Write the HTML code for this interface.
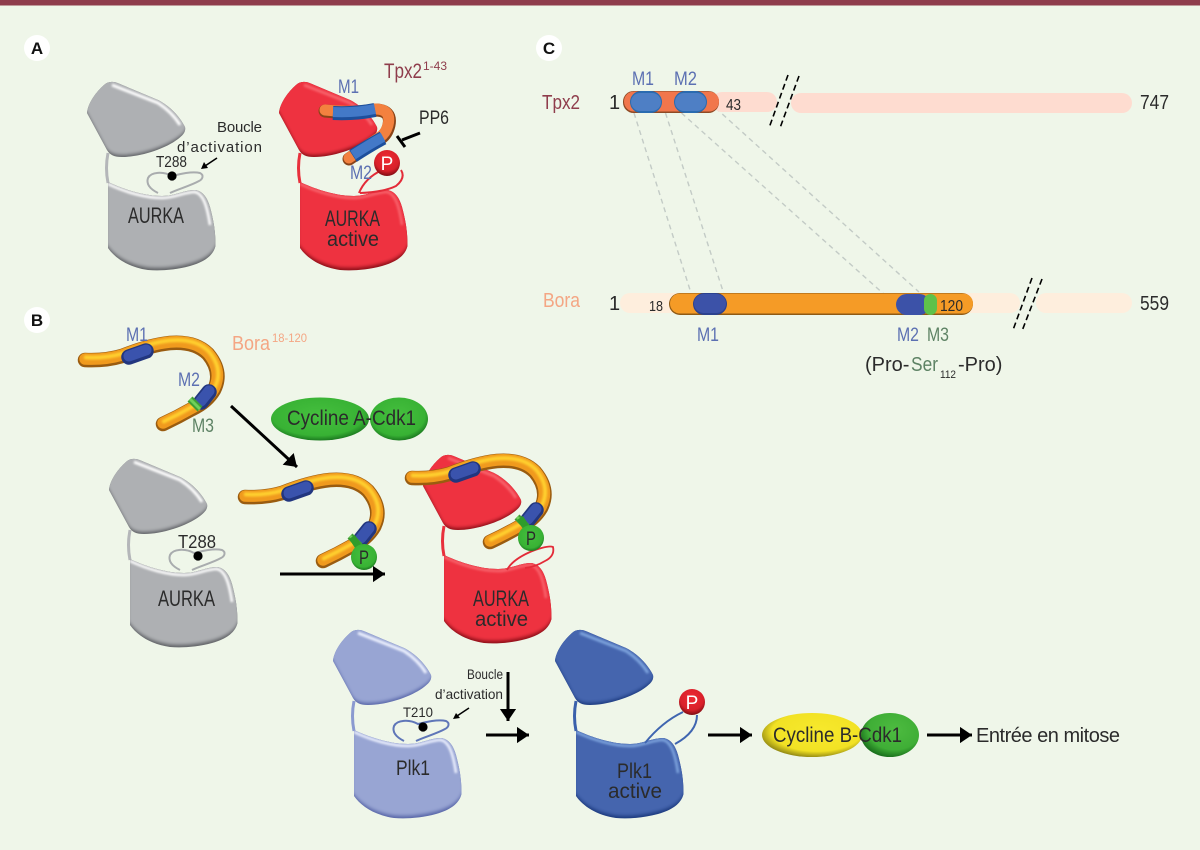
<!DOCTYPE html>
<html><head><meta charset="utf-8"><style>
html,body{margin:0;padding:0;background:#eff6e9}
svg{display:block}
text{font-family:"Liberation Sans",sans-serif;fill:#2b2b2b}
.b{fill:#5c70b2}.g{fill:#5d8264}
</style></head><body>
<svg width="1200" height="850" viewBox="0 0 1200 850" xmlns="http://www.w3.org/2000/svg">
<defs>
<filter id="bl" x="-20%" y="-20%" width="140%" height="140%"><feGaussianBlur stdDeviation="1.9"/></filter>
<filter id="bs" x="-30%" y="-30%" width="160%" height="160%"><feGaussianBlur stdDeviation="1"/></filter>
<path id="lobeP" d="M87 113 C88 103 96 92 104 85 C108 81 114 81 120 84 L158 100 C170 106 180 117 185 127 C186 132 183 135 178 139 C165 149 140 157 122 157 C114 157 110 155 107 150 Z"/>
<path id="lowP" d="M108 182 C125 190 145 196 162 196 C175 196 184 190 195 190 C204 191 208 200 210 207 C214 222 215.5 232 215.5 246 C213 256 204 262 190 266 C175 270 160 271 148 270 C128 267 115 258 108 248 Z"/>
<clipPath id="cL"><use href="#lobeP"/></clipPath>
<clipPath id="cW"><use href="#lowP"/></clipPath>
<g id="kin">
 <path d="M108 153 Q105 168 108 183" fill="none" style="stroke:var(--s)" stroke-width="3"/>
 <use href="#lobeP" style="fill:var(--d)"/>
 <g clip-path="url(#cL)">
  <use href="#lobeP" transform="translate(0,-4)" filter="url(#bl)" stroke-width="4" style="fill:var(--b);stroke:var(--b)"/>
  <path d="M112 85 L158 103 Q172 112 180 125" fill="none" style="stroke:var(--h)" stroke-width="3" filter="url(#bs)"/>
 </g>
 <use href="#lowP" style="fill:var(--d)"/>
 <g clip-path="url(#cW)">
  <use href="#lowP" transform="translate(0,-4.5)" filter="url(#bl)" stroke-width="4" style="fill:var(--b);stroke:var(--b)"/>
  <path d="M108 184 C125 192 145 198 162 198 C175 198 184 192 195 192 C203 194 207 205 210 225" fill="none" style="stroke:var(--h)" stroke-width="2.6" filter="url(#bs)"/>
 </g>
</g>
<path id="loop" d="M158 193 C150 189 146 184 148 178 C151 172 163 171 172 176 C180 174 192 171 200 173 C204 175 203 179 199 181 C190 186 178 189 170 193" fill="none" stroke-width="2"/>
<path id="boraP" d="M85 360 Q105 361 122 356 Q150 345 170 343 Q195 341 208 354 Q223 372 214 390 Q207 402 192 409 Q178 417 163 424"/>
<g id="bora" fill="none" stroke-linecap="round">
 <use href="#boraP" stroke="#9a5c10" stroke-width="14.5"/>
 <use href="#boraP" stroke="#f09a1e" stroke-width="11.5" transform="translate(0,-1)"/>
 <use href="#boraP" stroke="#ffd02f" stroke-width="4" transform="translate(0.8,-2.6)" filter="url(#bs)"/>
 <path d="M129 357 L146 351" stroke="#22367f" stroke-width="15.5"/>
 <path d="M129 356 L146 350" stroke="#3a53ad" stroke-width="11"/>
 <path d="M201 402 L209 392" stroke="#22367f" stroke-width="15.5"/>
 <path d="M201 401 L209 391" stroke="#3a53ad" stroke-width="11"/>
 <path d="M190 399 L200 409" stroke="#3f9e34" stroke-width="7" stroke-linecap="butt"/>
 <path d="M190 399 L200 409" stroke="#6fd05a" stroke-width="3" stroke-linecap="butt"/>
</g>
<radialGradient id="gp" cx="48%" cy="42%" r="58%"><stop offset="0" stop-color="#45bf3e"/><stop offset=".8" stop-color="#38b234"/><stop offset="1" stop-color="#1c7a20"/></radialGradient>
<radialGradient id="rp" cx="50%" cy="35%" r="65%"><stop offset="0" stop-color="#ee2a33"/><stop offset=".7" stop-color="#d8202a"/><stop offset="1" stop-color="#7e0c12"/></radialGradient>
<radialGradient id="ye" cx="55%" cy="42%" r="60%"><stop offset="0" stop-color="#f7e92d"/><stop offset=".75" stop-color="#f2e224"/><stop offset="1" stop-color="#8d8413"/></radialGradient>
<radialGradient id="gg" cx="58%" cy="38%" r="65%"><stop offset="0" stop-color="#4dbb40"/><stop offset=".7" stop-color="#3fae36"/><stop offset="1" stop-color="#176a1a"/></radialGradient>
<marker id="ah" markerWidth="6" markerHeight="6" refX="4" refY="2.7" orient="auto" markerUnits="strokeWidth"><path d="M0 0L4 2.7L0 5.4Z" fill="#000"/></marker>
</defs>

<rect width="1200" height="850" fill="#eff6e9"/>
<rect width="1200" height="5.5" fill="#8f3d4c"/>

<!-- panel letters -->
<circle cx="37" cy="48" r="13" fill="#fff"/><text x="37" y="54" text-anchor="middle" font-size="17" font-weight="bold" style="fill:#111">A</text>
<circle cx="37" cy="320" r="13" fill="#fff"/><text x="37" y="326" text-anchor="middle" font-size="17" font-weight="bold" style="fill:#111">B</text>
<circle cx="549" cy="48" r="13" fill="#fff"/><text x="549" y="54" text-anchor="middle" font-size="17" font-weight="bold" style="fill:#111">C</text>

<!-- A : grey -->
<use href="#kin" style="--b:#aeb0b3;--d:#606266;--h:#fff;--s:#b4b6b9"/>
<use href="#loop" stroke="#a9acae"/>
<circle cx="172" cy="176" r="4.6" fill="#000"/>
<text x="128" y="223" font-size="22" textLength="56" lengthAdjust="spacingAndGlyphs">AURKA</text>
<text x="217" y="132" font-size="15" textLength="45" lengthAdjust="spacing">Boucle</text>
<text x="177" y="152" font-size="15" textLength="85" lengthAdjust="spacing">d’activation</text>
<text x="156" y="167" font-size="16" textLength="31" lengthAdjust="spacingAndGlyphs">T288</text>
<path d="M217 158L205 166" stroke="#000" stroke-width="1.6"/><path d="M201 169L204 162L208 168Z" fill="#000"/>

<!-- A : red -->
<g transform="translate(192,0)"><use href="#kin" style="--b:#ee3240;--d:#8c0f18;--h:#f8636c;--s:#e8303c"/></g>
<path d="M359 193 Q365 178 382 170 M401 170 Q406 178 396 186 Q384 192 360 193" fill="none" stroke="#e32b38" stroke-width="2"/>
<g fill="none" stroke-linecap="round">
 <path d="M325 111 Q350 114 375 110 Q392 110 389 125 Q387 134 381 138 Q365 148 349 159" stroke="#8a4418" stroke-width="13"/>
 <path d="M325 110 Q350 113 375 109 Q392 109 388 125 Q386 133 380 137 Q365 147 349 158" stroke="#f3813f" stroke-width="11"/>
 <path d="M333 113 Q355 114 375 110" stroke="#1d4f9c" stroke-width="14" stroke-linecap="butt"/>
 <path d="M333 112 Q355 113 375 109" stroke="#4379c8" stroke-width="10" stroke-linecap="butt"/>
 <path d="M383 138 Q370 145 353 156" stroke="#1d4f9c" stroke-width="14" stroke-linecap="butt"/>
 <path d="M383 137 Q370 144 353 155" stroke="#4379c8" stroke-width="10" stroke-linecap="butt"/>
</g>
<circle cx="387" cy="163" r="13" fill="url(#rp)"/><text x="387" y="170" text-anchor="middle" font-size="19" style="fill:#fff">P</text>
<text x="325" y="226" font-size="22" textLength="55" lengthAdjust="spacingAndGlyphs">AURKA</text>
<text x="327" y="246" font-size="21" textLength="52" lengthAdjust="spacingAndGlyphs">active</text>
<text x="384" y="78" font-size="21" textLength="38" lengthAdjust="spacingAndGlyphs" style="fill:#8f3d4c">Tpx2</text>
<text x="423" y="70" font-size="12" textLength="24" lengthAdjust="spacingAndGlyphs" style="fill:#8f3d4c">1-43</text>
<text class="b" x="338" y="93" font-size="19" textLength="21" lengthAdjust="spacingAndGlyphs">M1</text>
<text class="b" x="350" y="179" font-size="19" textLength="22" lengthAdjust="spacingAndGlyphs">M2</text>
<text x="419" y="124" font-size="19" textLength="30" lengthAdjust="spacingAndGlyphs">PP6</text>
<path d="M420 133L402 140" stroke="#000" stroke-width="3"/><path d="M397 136L405 147" stroke="#000" stroke-width="3"/>

<!-- B : Bora free -->
<use href="#bora"/>
<text x="232" y="350" font-size="20" textLength="38" lengthAdjust="spacingAndGlyphs" style="fill:#f4a684">Bora</text>
<text x="272" y="342" font-size="12" textLength="35" lengthAdjust="spacingAndGlyphs" style="fill:#f4a684">18-120</text>
<text class="b" x="126" y="341" font-size="19" textLength="22" lengthAdjust="spacingAndGlyphs">M1</text>
<text class="b" x="178" y="386" font-size="19" textLength="22" lengthAdjust="spacingAndGlyphs">M2</text>
<text class="g" x="192" y="432" font-size="19" textLength="22" lengthAdjust="spacingAndGlyphs">M3</text>

<ellipse cx="320" cy="419" rx="49" ry="21.5" fill="url(#gp)"/>
<ellipse cx="399" cy="419" rx="29" ry="21.5" fill="url(#gp)"/>
<text x="287" y="425" font-size="21" textLength="129" lengthAdjust="spacingAndGlyphs">Cycline A-Cdk1</text>

<path d="M231 406L297 467" stroke="#000" stroke-width="3" marker-end="url(#ah)"/>

<g transform="translate(22,377)"><use href="#kin" style="--b:#aeb0b3;--d:#606266;--h:#fff;--s:#b4b6b9"/><use href="#loop" stroke="#a9acae"/></g>
<circle cx="198" cy="556" r="4.6" fill="#000"/>
<text x="178" y="548" font-size="18" textLength="38" lengthAdjust="spacingAndGlyphs">T288</text>
<text x="158" y="606" font-size="22" textLength="57" lengthAdjust="spacingAndGlyphs">AURKA</text>

<!-- B : Bora + P -->
<g transform="translate(160,137)"><use href="#bora"/></g>
<path d="M352 537L362 552" stroke="#2f9c2b" stroke-width="7"/>
<circle cx="364" cy="557" r="13" fill="url(#gp)"/>
<text x="364" y="564" text-anchor="middle" font-size="19" textLength="10" lengthAdjust="spacingAndGlyphs">P</text>
<path d="M280 574L385 574" stroke="#000" stroke-width="3" marker-end="url(#ah)"/>

<!-- B : active red -->
<g transform="translate(336,373)"><use href="#kin" style="--b:#ee3240;--d:#8c0f18;--h:#f8636c;--s:#e8303c"/></g>
<path d="M507 570 Q512 560 530 552 Q548 545 553 547 Q555 556 545 561 Q535 567 525 568" fill="none" stroke="#e32b38" stroke-width="1.8"/>
<g transform="translate(327,118)"><use href="#bora"/></g>
<path d="M520 518L530 533" stroke="#2f9c2b" stroke-width="7"/>
<circle cx="531" cy="538" r="13" fill="url(#gp)"/>
<text x="531" y="545" text-anchor="middle" font-size="19" textLength="10" lengthAdjust="spacingAndGlyphs">P</text>
<text x="473" y="606" font-size="22" textLength="56" lengthAdjust="spacingAndGlyphs">AURKA</text>
<text x="475" y="626" font-size="21" textLength="53" lengthAdjust="spacingAndGlyphs">active</text>

<!-- Plk1 -->
<g transform="translate(246,548)"><use href="#kin" style="--b:#98a5d3;--d:#5866a8;--h:#eef2ff;--s:#8b9ad0"/><use href="#loop" stroke="#5f76b8"/></g>
<circle cx="423" cy="727" r="4.6" fill="#000"/>
<text x="396" y="775" font-size="21" textLength="34" lengthAdjust="spacingAndGlyphs">Plk1</text>
<text x="403" y="717" font-size="14" textLength="30" lengthAdjust="spacingAndGlyphs">T210</text>
<text x="467" y="679" font-size="14" textLength="36" lengthAdjust="spacingAndGlyphs">Boucle</text>
<text x="435" y="699" font-size="14" textLength="68" lengthAdjust="spacingAndGlyphs">d’activation</text>
<path d="M469 708L457 716" stroke="#000" stroke-width="1.5"/><path d="M453 719L456 713L460 718Z" fill="#000"/>
<path d="M508 672L508 721" stroke="#000" stroke-width="3" marker-end="url(#ah)"/>
<path d="M486 735L529 735" stroke="#000" stroke-width="3" marker-end="url(#ah)"/>

<!-- Plk1 active -->
<g transform="translate(468,548)"><use href="#kin" style="--b:#4465ae;--d:#1c3a7e;--h:#7ea4de;--s:#3a60ab"/></g>
<path d="M645 743 Q662 722 683 712 M697 715 Q697 732 675 744" fill="none" stroke="#3f65b0" stroke-width="2"/>
<circle cx="692" cy="702" r="13" fill="url(#rp)"/><text x="692" y="709" text-anchor="middle" font-size="19" style="fill:#fff">P</text>
<text x="617" y="778" font-size="21" textLength="35" lengthAdjust="spacingAndGlyphs">Plk1</text>
<text x="608" y="798" font-size="21" textLength="54" lengthAdjust="spacingAndGlyphs">active</text>

<path d="M708 735L752 735" stroke="#000" stroke-width="3" marker-end="url(#ah)"/>
<ellipse cx="812" cy="735" rx="50" ry="22" fill="url(#ye)"/>
<ellipse cx="890" cy="735" rx="29" ry="22" fill="url(#gg)"/>
<text x="773" y="742" font-size="21" textLength="129" lengthAdjust="spacingAndGlyphs">Cycline B-Cdk1</text>
<path d="M927 735L972 735" stroke="#000" stroke-width="3" marker-end="url(#ah)"/>
<text x="976" y="742" font-size="20" textLength="144" lengthAdjust="spacing">Entrée en mitose</text>

<!-- C -->
<g stroke="#c3cbc6" stroke-width="1.4" stroke-dasharray="5 4" fill="none">
 <path d="M634 113L691 293"/><path d="M665.5 113L723.6 293"/><path d="M681.5 113L896 305"/><path d="M709 102L919 292"/>
</g>
<rect x="712" y="92" width="65" height="20" rx="10" fill="#fedcd0"/>
<rect x="791" y="93" width="341" height="20" rx="10" fill="#fedcd0"/>
<rect x="623" y="91" width="96" height="22" rx="10.5" fill="#8e4a25"/>
<rect x="624" y="91.5" width="95" height="20" rx="10" fill="#f1764c"/>
<rect x="630" y="91" width="32" height="22" rx="11" fill="#2a6bb0"/>
<rect x="631" y="93" width="30" height="18" rx="9" fill="#4e7fc5"/>
<rect x="674" y="91" width="33" height="22" rx="11" fill="#2a6bb0"/>
<rect x="675" y="93" width="31" height="18" rx="9" fill="#4e7fc5"/>
<g stroke="#000" stroke-width="1.6" stroke-dasharray="6 3.5"><path d="M788 75L769 128"/><path d="M799 76L780 128"/></g>
<text x="542" y="109" font-size="20" textLength="38" lengthAdjust="spacingAndGlyphs" style="fill:#8f3d4c">Tpx2</text>
<text x="609" y="109" font-size="20">1</text>
<text x="726" y="110" font-size="16" textLength="15" lengthAdjust="spacingAndGlyphs">43</text>
<text x="1140" y="109" font-size="20" textLength="29" lengthAdjust="spacingAndGlyphs">747</text>
<text class="b" x="632" y="85" font-size="19" textLength="22" lengthAdjust="spacingAndGlyphs">M1</text>
<text class="b" x="674" y="85" font-size="19" textLength="23" lengthAdjust="spacingAndGlyphs">M2</text>

<rect x="620" y="293" width="400" height="20" rx="10" fill="#feeedd"/>
<rect x="1036" y="293" width="96" height="20" rx="10" fill="#feeedd"/>
<rect x="669" y="293" width="304" height="22" rx="11" fill="#8f5a14"/>
<rect x="670" y="293.5" width="303" height="20" rx="10" fill="#f59b26"/>
<rect x="693" y="293" width="34" height="22" rx="11" fill="#2b418f"/>
<rect x="694" y="294" width="32" height="19" rx="9.5" fill="#3c52a8"/>
<rect x="896" y="294" width="34" height="21" rx="10.5" fill="#3c52a8"/>
<rect x="924" y="294" width="13" height="21" rx="6.5" fill="#5fc14a"/>
<g stroke="#000" stroke-width="1.6" stroke-dasharray="6 3.5"><path d="M1032 278L1013 330"/><path d="M1042 279L1022 331"/></g>
<text x="543" y="307" font-size="20" textLength="37" lengthAdjust="spacingAndGlyphs" style="fill:#f4a684">Bora</text>
<text x="609" y="310" font-size="20">1</text>
<text x="649" y="311" font-size="15" textLength="14" lengthAdjust="spacingAndGlyphs">18</text>
<text x="940" y="311" font-size="16" textLength="23" lengthAdjust="spacingAndGlyphs">120</text>
<text x="1140" y="310" font-size="20" textLength="29" lengthAdjust="spacingAndGlyphs">559</text>
<text class="b" x="697" y="341" font-size="19" textLength="22" lengthAdjust="spacingAndGlyphs">M1</text>
<text class="b" x="897" y="341" font-size="19" textLength="22" lengthAdjust="spacingAndGlyphs">M2</text>
<text class="g" x="927" y="341" font-size="19" textLength="22" lengthAdjust="spacingAndGlyphs">M3</text>
<text x="865" y="371" font-size="20">(Pro-</text>
<text class="g" x="911" y="371" font-size="20" textLength="27" lengthAdjust="spacingAndGlyphs">Ser</text>
<text x="940" y="378" font-size="11" textLength="16" lengthAdjust="spacingAndGlyphs">112</text>
<text x="958" y="371" font-size="20">-Pro)</text>
</svg>
</body></html>
